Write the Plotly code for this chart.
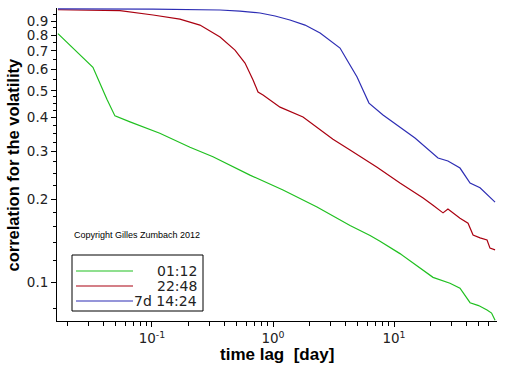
import plotly.graph_objects as go

# ---- data ----
series_names = ["01:12", "22:48", "7d 14:24"]
series_colors = ["#20c020", "#aa0010", "#2d2db4"]

t_green = [0.0167, 0.0325, 0.0425, 0.0494, 0.0658, 0.116, 0.206, 0.319, 0.645, 1.21,
           2.31, 4.33, 6.34, 7.66, 11.2, 14.4, 21.0, 29.0, 35.1, 42.5, 50.0, 58.7, 64.0, 68.4]
v_green = [0.81, 0.61, 0.465, 0.405, 0.385, 0.35, 0.311, 0.287, 0.246, 0.217,
           0.188, 0.161, 0.148, 0.141, 0.127, 0.117, 0.104, 0.099, 0.095, 0.084, 0.082, 0.079, 0.077, 0.0725]

t_red = [0.0167, 0.0401, 0.0544, 0.102, 0.170, 0.249, 0.365, 0.485, 0.587, 0.684, 0.752, 0.827,
         1.143, 1.77, 3.13, 4.33, 7.24, 11.2, 17.4, 21.0, 25.4, 27.9, 35.1, 40.9, 45.0, 51.4,
         58.7, 62.1, 68.4]
v_red = [0.99, 0.987, 0.982, 0.947, 0.915, 0.870, 0.787, 0.705, 0.632, 0.548, 0.495, 0.483,
         0.436, 0.401, 0.333, 0.304, 0.263, 0.230, 0.203, 0.191, 0.179, 0.185, 0.171, 0.164,
         0.1485, 0.145, 0.1425, 0.133, 0.131]

t_blue = [0.0167, 0.0544, 0.102, 0.365, 0.533, 0.781, 1.04, 1.38, 1.84, 2.45, 2.96, 3.58, 4.09,
          4.95, 5.54, 6.21, 8.11, 10.6, 14.9, 23.1, 27.9, 35.1, 42.5, 51.4, 68.4]
v_blue = [0.998, 0.997, 0.995, 0.988, 0.979, 0.963, 0.939, 0.908, 0.870, 0.814, 0.767, 0.717,
          0.648, 0.562, 0.504, 0.451, 0.408, 0.375, 0.336, 0.284, 0.277, 0.261, 0.230, 0.221, 0.196]

x_tickvals = [0.1, 1, 10]
x_ticktext = ["10<sup>-1</sup>", "10<sup>0</sup>", "10<sup>1</sup>"]
x_minor = [0.02, 0.03, 0.04, 0.05, 0.06, 0.07, 0.08, 0.09,
           0.2, 0.3, 0.4, 0.5, 0.6, 0.7, 0.8, 0.9,
           2, 3, 4, 5, 6, 7, 8, 9, 20, 30, 40, 50, 60]
y_tickvals = [0.1, 0.2, 0.3, 0.4, 0.5, 0.6, 0.7, 0.8, 0.9]
y_ticktext = ["0.1", "0.2", "0.3", "0.4", "0.5", "0.6", "0.7", "0.8", "0.9"]
y_minor = [0.08, 0.12, 0.14, 0.16, 0.18, 0.225, 0.25, 0.275, 0.325, 0.35, 0.375,
           0.425, 0.45, 0.475, 0.55, 0.65, 0.75, 0.85, 0.95]

copyright_text = "Copyright Gilles Zumbach 2012"
x_title = "time lag  [day]"
y_title = "correlation for the volatility"

# ---- figure ----
fig = go.Figure()
for t, v, name, col in zip([t_green, t_red, t_blue], [v_green, v_red, v_blue],
                           series_names, series_colors):
    fig.add_trace(go.Scatter(x=t, y=v, mode="lines", name=name,
                             line=dict(color=col, width=1.2), showlegend=False))

W, H = 512, 366
L, R, T, B = 57, 15, 8, 45
pw, ph = W - L - R, H - T - B

def px(xp):
    return (xp - L) / pw

def py(yp):
    return (H - B - yp) / ph

tickfont = dict(family="DejaVu Sans", size=13.5, color="#222")
fig.update_xaxes(type="log", range=[-1.785, 1.851], showline=True, linecolor="black",
                 linewidth=1, showgrid=False, zeroline=False, ticks="outside", ticklen=5,
                 tickcolor="black", tickvals=x_tickvals, ticktext=x_ticktext, tickfont=tickfont,
                 automargin=False,
                 minor=dict(tickvals=x_minor, ticks="outside", ticklen=4, tickcolor="black",
                            showgrid=False))
fig.update_yaxes(type="log", range=[-1.1426, 0.002], showline=True, linecolor="black",
                 linewidth=1, showgrid=False, zeroline=False, ticks="outside", ticklen=5,
                 tickcolor="black", tickvals=y_tickvals, ticktext=y_ticktext, tickfont=tickfont,
                 automargin=False,
                 minor=dict(tickvals=y_minor, ticks="outside", ticklen=3, tickcolor="black",
                            showgrid=False))

annotations = [
    dict(text="<b>" + x_title + "</b>", x=0.5, y=py(354), xref="paper", yref="paper",
         xanchor="center", yanchor="middle", showarrow=False,
         font=dict(family="Liberation Sans", size=17, color="black")),
    dict(text="<b>" + y_title + "</b>", x=px(12), y=0.5, xref="paper", yref="paper",
         xanchor="center", yanchor="middle", textangle=-90, showarrow=False,
         font=dict(family="Liberation Sans", size=16.5, color="black")),
    dict(text=copyright_text, x=px(72), y=py(235), xref="paper", yref="paper",
         xanchor="left", yanchor="middle", showarrow=False,
         font=dict(family="Liberation Sans", size=9, color="black")),
]

shapes = [dict(type="rect", xref="paper", yref="paper", x0=px(72), x1=px(203),
               y0=py(311), y1=py(255), line=dict(color="black", width=1))]
rows = [271, 286, 301]
for name, col, r in zip(series_names, series_colors, rows):
    shapes.append(dict(type="line", xref="paper", yref="paper", x0=px(76), x1=px(133),
                       y0=py(r), y1=py(r), line=dict(color=col, width=1.2)))
    annotations.append(dict(text=name, x=px(199), y=py(r), xref="paper", yref="paper",
                            xanchor="right", yanchor="middle", showarrow=False,
                            font=dict(family="DejaVu Sans", size=14, color="#222")))

fig.update_layout(width=W, height=H, autosize=False,
                  margin=dict(l=L, r=R, t=T, b=B, pad=0),
                  paper_bgcolor="white", plot_bgcolor="white",
                  annotations=annotations, shapes=shapes, showlegend=False)

fig.write_html("out.html", config={"displayModeBar": False},
               post_script="document.body.style.margin='0';document.body.style.padding='0';")
